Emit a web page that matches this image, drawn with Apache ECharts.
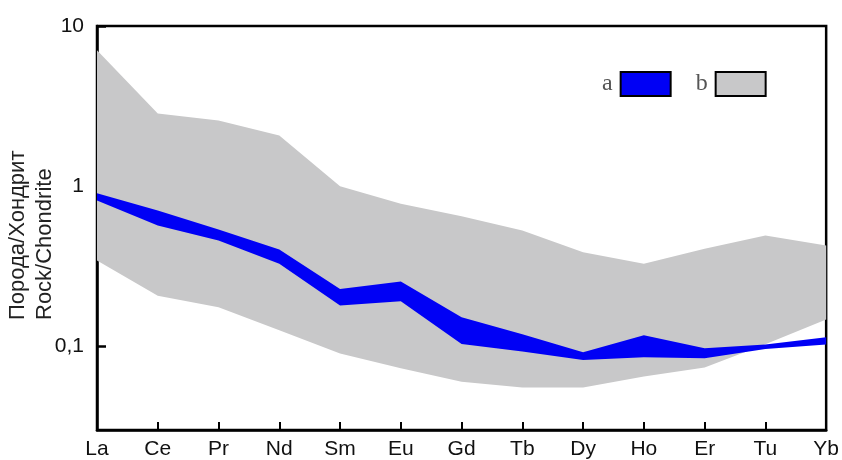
<!DOCTYPE html>
<html>
<head>
<meta charset="utf-8">
<script src="https://cdn.jsdelivr.net/npm/echarts@6/dist/echarts.min.js"></script>
<style>
  html, body { margin: 0; padding: 0; background: #fff; }
  #chart { width: 842px; height: 460px; }
</style>
</head>
<body>
<div id="chart"></div>
<script>
// Rare-earth elements (chondrite-normalised)
const elements = ['La', 'Ce', 'Pr', 'Nd', 'Sm', 'Eu', 'Gd', 'Tb', 'Dy', 'Ho', 'Er', 'Tu', 'Yb'];

// Field b: envelope of the comparison rocks
const fieldBUpper = [7.05, 2.84, 2.57, 2.07, 1.0, 0.776, 0.649, 0.529, 0.387, 0.327, 0.406, 0.492, 0.426];
const fieldBLower = [0.343, 0.207, 0.175, 0.126, 0.09, 0.073, 0.060, 0.0552, 0.0552, 0.0647, 0.0736, 0.103, 0.147];

// Field a: envelope of the studied samples
const fieldAUpper = [0.904, 0.705, 0.536, 0.402, 0.228, 0.254, 0.152, 0.119, 0.0918, 0.117, 0.0972, 0.1025, 0.114];
const fieldALower = [0.814, 0.568, 0.458, 0.327, 0.18, 0.191, 0.1035, 0.0927, 0.0822, 0.0854, 0.0841, 0.0963, 0.1025];

const yTickValues = [0.1, 1, 10];

const axisFont = 'Liberation Sans, Arial, sans-serif';

// Draws a filled envelope between an upper and a lower curve as one polygon
function envelope(upper, lower) {
  return function (params, api) {
    if (params.dataIndex !== 0) return null;
    const pts = [];
    for (let i = 0; i < upper.length; i++) pts.push(api.coord([i, upper[i]]));
    for (let i = lower.length - 1; i >= 0; i--) pts.push(api.coord([i, lower[i]]));
    return {
      type: 'polygon',
      shape: { points: pts },
      style: { fill: api.visual('color'), stroke: null }
    };
  };
}

function bandData(upper, lower) {
  return elements.map((e, i) => [i, upper[i], lower[i]]);
}

const chart = echarts.init(document.getElementById('chart'), null, { renderer: 'canvas' });

chart.setOption({
  animation: false,
  backgroundColor: '#ffffff',
  grid: {
    left: 97, right: 12, top: 26, bottom: 30,
    show: true, borderColor: '#000', borderWidth: 2.5, backgroundColor: 'transparent'
  },
  legend: {
    data: ['a', 'b'],
    left: 597, top: 66,
    align: 'right',
    icon: 'rect',
    itemWidth: 50, itemHeight: 24,
    itemGap: 24,
    textStyle: { fontFamily: 'Liberation Serif, Times New Roman, serif', fontSize: 24, color: '#555', padding: [0, 3, 0, 0] },
    itemStyle: { borderColor: '#000', borderWidth: 2 }
  },
  xAxis: {
    type: 'category',
    data: elements,
    boundaryGap: false,
    axisLine: { lineStyle: { color: '#000', width: 2.5 } },
    axisTick: { inside: true, length: 8, lineStyle: { color: '#000', width: 2 } },
    axisLabel: { fontFamily: axisFont, fontSize: 21, color: '#111', margin: 9 },
    splitLine: { show: false }
  },
  yAxis: {
    type: 'log',
    logBase: 10,
    min: 0.03,
    max: 10,
    axisLine: { show: true, lineStyle: { color: '#000', width: 2.5 } },
    axisTick: {
      show: true, inside: true, length: 9, lineStyle: { color: '#000', width: 2.5 },
      customValues: yTickValues
    },
    axisLabel: {
      fontFamily: axisFont, fontSize: 21, color: '#111', margin: 13,
      customValues: yTickValues,
      formatter: v => String(v).replace('.', ',')
    },
    minorTick: { show: false },
    splitLine: { show: false }
  },
  graphic: [
    {
      type: 'text', x: 18, y: 320, rotation: Math.PI / 2,
      style: { text: 'Порода/Хондрит', font: '22px Liberation Sans, Arial, sans-serif', fill: '#222', align: 'left', verticalAlign: 'middle' }
    },
    {
      type: 'text', x: 45, y: 320, rotation: Math.PI / 2,
      style: { text: 'Rock/Chondrite', font: '22px Liberation Sans, Arial, sans-serif', fill: '#222', align: 'left', verticalAlign: 'middle' }
    }
  ],
  series: [
    {
      name: 'b',
      type: 'custom',
      clip: true,
      itemStyle: { color: '#c8c8c9' },
      encode: { x: 0, y: [1, 2] },
      data: bandData(fieldBUpper, fieldBLower),
      renderItem: envelope(fieldBUpper, fieldBLower),
      z: 1
    },
    {
      name: 'a',
      type: 'custom',
      clip: true,
      itemStyle: { color: '#0000f5' },
      encode: { x: 0, y: [1, 2] },
      data: bandData(fieldAUpper, fieldALower),
      renderItem: envelope(fieldAUpper, fieldALower),
      z: 2
    }
  ]
});
</script>
</body>
</html>
